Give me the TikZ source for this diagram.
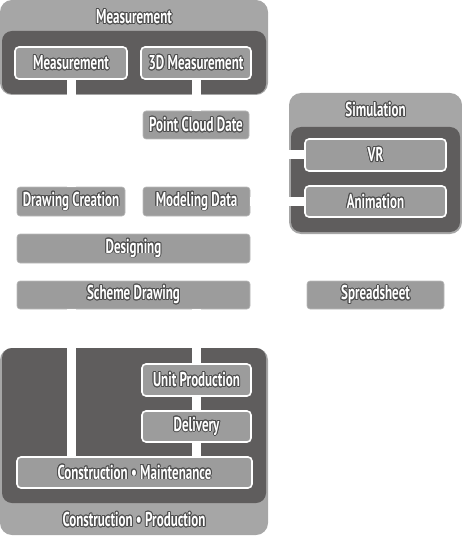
\documentclass[tikz,border=0pt]{standalone}
\usepackage{fontspec}
\usepackage{contour}
\newfontfamily\boxfont[FakeStretch=0.65,BoldFont={PT Sans Bold}]{PT Sans}
\contourlength{0.9pt}
\definecolor{panellight}{HTML}{A6A6A6}
\definecolor{paneldark}{HTML}{5F5D5D}
\definecolor{boxgray}{HTML}{9C9C9C}
\definecolor{textedge}{HTML}{4E4E4E}
\newcommand{\lbl}[1]{\textcolor{white}{\contour{textedge}{#1}}}
\tikzset{
  outerpanel/.style={fill=panellight, rounded corners=12pt},
  innerpanel/.style={fill=paneldark, rounded corners=10pt},
  subbox/.style={draw=white, line width=1.6pt, fill=boxgray, rounded corners=4pt,
    inner sep=0pt, font=\boxfont\bfseries\fontsize{20}{22}\selectfont},
  plainbox/.style={draw=boxgray!70!white, line width=0.6pt, fill=boxgray, rounded corners=3pt,
    inner sep=0pt, font=\boxfont\bfseries\fontsize{20}{22}\selectfont},
  paneltitle/.style={inner sep=0pt, font=\boxfont\bfseries\fontsize{20}{22}\selectfont},
  conn/.style={draw=white, line width=9pt}
}
\begin{document}
\begin{tikzpicture}[x=1pt,y=-1pt]
    \useasboundingbox (0,0) rectangle (462,540);
    % panels
    \fill[outerpanel] (0,0) rectangle (268,95);
    \fill[innerpanel] (2,31) rectangle (266,94);
    \node[paneltitle] (measpanel) at (134,17) {\lbl{Measurement}};
    \fill[outerpanel] (289,93) rectangle (462,234);
    \fill[innerpanel] (291,127) rectangle (460,232);
    \node[paneltitle] (simpanel) at (375.5,110) {\lbl{Simulation}};
    \fill[outerpanel] (0,348) rectangle (268,535);
    \fill[innerpanel] (2,348) rectangle (266,503);
    \node[paneltitle] (conspanel) at (134,520) {\lbl{Construction • Production}};
    % boxes
    \node[subbox, minimum width=112, minimum height=32] (meas) at (71,63) {\lbl{Measurement}};
    \node[subbox, minimum width=110, minimum height=32] (meas3d) at (196,63) {\lbl{3D Measurement}};
    \node[plainbox, minimum width=106, minimum height=28] (pcd) at (196,125) {\lbl{Point Cloud Date}};
    \node[plainbox, minimum width=108, minimum height=29] (drawcr) at (71,201.5) {\lbl{Drawing Creation}};
    \node[plainbox, minimum width=107, minimum height=29] (modeling) at (196.5,201.5) {\lbl{Modeling Data}};
    \node[plainbox, minimum width=233, minimum height=29] (designing) at (133.5,248.5) {\lbl{Designing}};
    \node[plainbox, minimum width=233, minimum height=28] (scheme) at (133.5,295) {\lbl{Scheme Drawing}};
    \node[plainbox, minimum width=137, minimum height=28] (sheet) at (375.5,295) {\lbl{Spreadsheet}};
    \node[subbox, minimum width=141, minimum height=32] (vr) at (375.5,155) {\lbl{VR}};
    \node[subbox, minimum width=141, minimum height=31] (anim) at (375.5,201.5) {\lbl{Animation}};
    \node[subbox, minimum width=109, minimum height=32] (unitp) at (196.5,380) {\lbl{Unit Production}};
    \node[subbox, minimum width=109, minimum height=31] (deliv) at (196.5,426.5) {\lbl{Delivery}};
    \node[subbox, minimum width=235, minimum height=31] (cm) at (134.5,472.5) {\lbl{Construction • Maintenance}};
    % connectors
    \coordinate (vrfree) at (270,155);
    \draw[conn] (meas.south) -- (drawcr.north);
    \draw[conn] (meas3d.south) -- (pcd.north);
    \draw[conn] (vr.west) -- (vrfree);
    \draw[conn] (anim.west) -- (modeling.east);
    \draw[conn] (scheme.south -| drawcr.south) -- (cm.north -| drawcr.south);
    \draw[conn] (unitp.north |- scheme.south) -- (unitp.north);
    \draw[conn] (unitp.south) -- (deliv.north);
    \draw[conn] (deliv.south) -- (cm.north -| deliv.south);
\end{tikzpicture}
\end{document}
